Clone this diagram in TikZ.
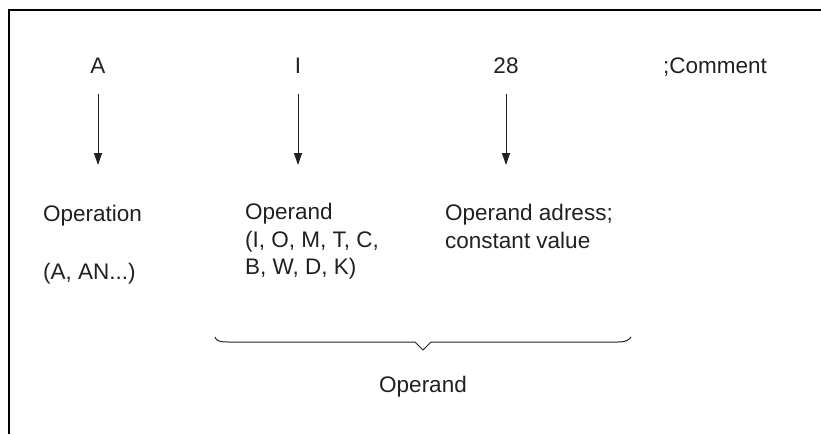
\documentclass[tikz,border=0pt]{standalone}
\usepackage{fontspec}
\setmainfont{Liberation Sans}
\usetikzlibrary{arrows.meta,positioning}
\definecolor{stInk}{HTML}{231F20}

\begin{document}
\begin{tikzpicture}[x=1pt,y=-1pt,
    lbl/.style={inner sep=0pt,text=stInk,font=\fontsize{22.5}{27.5}\selectfont},
    txtblock/.style={lbl,align=left,anchor=north west},
    pointer/.style={line width=1pt,draw=stInk,-{Triangle[length=12pt,width=8pt]},shorten <=21pt}]
  \useasboundingbox (0,0) rectangle (821,434);
  % frame
  \draw[line width=2.6pt] (9,434) -- (9,10) -- (821,10);
  % statement line
  \node[lbl,anchor=base] (opA) at (98,73) {A};
  \node[lbl,anchor=base] (opI) at (298,73) {I};
  \node[lbl,anchor=base] (opNum) at (506,73) {28};
  \node[lbl,anchor=base west] (opCom) at (663,73) {;Comment};
  % arrow ends
  \coordinate (tipA) at (98,165);
  \coordinate (tipI) at (298,165);
  \coordinate (tipNum) at (506,165);
  \draw[pointer] (opA.south) -- (tipA);
  \draw[pointer] (opI.south) -- (tipI);
  \draw[pointer] (opNum.south) -- (tipNum);
  % meanings
  \node[lbl,anchor=base west] (descOp) at (43,221) {Operation};
  \node[lbl,anchor=base west] (descOpEx) at (43,279) {(A, AN...)};
  \node[txtblock] (descArg) at (245,203) {Operand\\(I, O, M, T, C,\\B, W, D, K)};
  \node[txtblock] (descAdr) at (445,204) {Operand adress;\\constant value};
  % brace under the operand part
  \draw[line width=1pt,draw=stInk] (215,337) .. controls (216,341) and (220,342) .. (228,342)
    -- (415,342) -- (423,350) -- (431,342) -- (618,342)
    .. controls (626,342) and (629,340) .. (631,337);
  \node[lbl,anchor=base] (descSum) at (423,392) {Operand};
\end{tikzpicture}
\end{document}
